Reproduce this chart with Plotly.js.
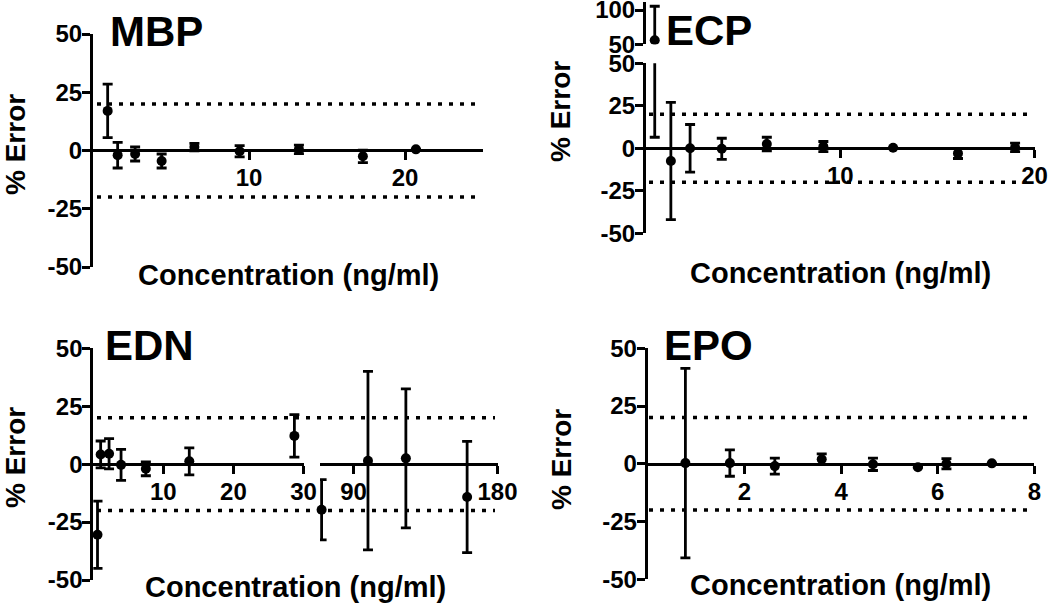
<!DOCTYPE html>
<html>
<head>
<meta charset="utf-8">
<script src="https://cdn.plot.ly/plotly-3.0.1.min.js"></script>
<style>html,body{margin:0;padding:0;background:#fff;}#chart{width:1050px;height:605px;}</style>
</head>
<body>
<div id="chart"></div>
<script>
// ---------- data ----------
const panelNames = ['MBP', 'ECP', 'EDN', 'EPO'];
const limits = [20, -20];

const mbpConc = [0.94, 1.58, 2.7, 4.4, 6.5, 9.4, 13.2, 17.3, 20.7];
const mbpError = [17, -2, -1.5, -4.5, 1.5, -0.3, 0.5, -2.5, 0.5];
const mbpSd = [11.5, 5.5, 3, 3, 1.6, 2.4, 1.8, 2.7, 0];

const ecpConc = [0.45, 1.28, 2.27, 3.9, 6.22, 9.13, 12.72, 16.06, 19.0];
const ecpError = [56, -7.5, 0, -0.3, 2.5, 1, 0.3, -3, 0.5];
const ecpSd = [49.5, 34.5, 14, 6.2, 4, 3, 0, 3, 2.5];

const ednConcLow = [0.6, 1.05, 2.25, 3.96, 7.5, 13.7, 28.7];
const ednErrorLow = [-30.5, 4.2, 4.5, -0.3, -2, 1.2, 12.2];
const ednSdLow = [14.5, 5.8, 6.5, 6.7, 3, 5.8, 9.2];
const ednConcHigh = [70, 99, 122.7, 161];
const ednErrorHigh = [-19.7, 1.5, 2.5, -14.2];
const ednSdHigh = [13, 38.5, 30, 24];

const epoConc = [0.78, 1.70, 2.63, 3.60, 4.66, 5.59, 6.18, 7.12];
const epoError = [0.3, 0.3, -1, 2, -0.2, -1.5, 0, 0.2];
const epoSd = [41, 5.7, 3.5, 2.3, 2.7, 0, 2.2, 0];

const yTicks = [-50, -25, 0, 25, 50];
const ecpTopTicks = [50, 100];
const mbpXTicks = [10, 20];
const ecpXTicks = [10, 20];
const ednXTicksLow = [10, 20, 30];
const ednXTicksHigh = [90, 180];
const epoXTicks = [2, 4, 6, 8];

const yTitle = '% Error';
const xTitle = 'Concentration (ng/ml)';

// ---------- layout helpers ----------
const W = 1050, H = 605;
const FONT = '"Liberation Sans", Arial, Helvetica, sans-serif';
const TICKSIZE = 24;
const fx = p => p / W;
const fy = p => 1 - p / H;

function xAx(p0, p1, range, tv, posPy, extra) {
  return Object.assign({
    domain: [fx(p0), fx(p1)], range: range, tickvals: tv, ticktext: tv.map(String),
    anchor: 'free', position: fy(posPy), showline: true, linewidth: 3, linecolor: '#000',
    ticks: 'outside', ticklen: 8, tickwidth: 3, tickcolor: '#000', ticklabeloverflow: 'allow',
    ticklabelstandoff: -3,
    showgrid: false, zeroline: false, fixedrange: true,
    tickfont: {family: FONT, size: TICKSIZE, color: '#000', weight: 'bold'}
  }, extra || {});
}
function yAx(pTop, pBot, range, tv, anchor) {
  return {
    domain: [fy(pBot), fy(pTop)], range: range, tickvals: tv, ticktext: tv.map(String),
    anchor: anchor, side: 'left', showline: true, linewidth: 3, linecolor: '#000',
    ticks: 'outside', ticklen: 8, tickwidth: 3, tickcolor: '#000', ticklabeloverflow: 'allow',
    ticklabelstandoff: -5,
    showgrid: false, zeroline: false, fixedrange: true,
    tickfont: {family: FONT, size: TICKSIZE, color: '#000', weight: 'bold'}
  };
}
function pts(x, y, sd, xa, ya, clip) {
  return {
    type: 'scatter', mode: 'markers', x: x, y: y, xaxis: xa, yaxis: ya,
    cliponaxis: clip, hoverinfo: 'skip',
    marker: {size: 10, color: '#000'},
    error_y: {type: 'data', array: sd, visible: true, color: '#000', thickness: 2.8, width: 5}
  };
}

const traces = [
  pts(mbpConc, mbpError, mbpSd, 'x', 'y', false),
  pts(ecpConc, ecpError, ecpSd, 'x2', 'y2', true),
  pts(ecpConc, ecpError, ecpSd, 'x2', 'y5', true),
  pts(ednConcLow, ednErrorLow, ednSdLow, 'x3', 'y3', false),
  pts(ednConcHigh, ednErrorHigh, ednSdHigh, 'x6', 'y3', false),
  pts(epoConc, epoError, epoSd, 'x4', 'y4', false)
];

// dotted ±20 % limits
const dotSpans = [
  {yref: 'y', p0: 97, p1: 480},
  {yref: 'y2', p0: 649, p1: 1027},
  {yref: 'y3', p0: 97, p1: 495},
  {yref: 'y4', p0: 649, p1: 1029}
];
const shapes = [];
dotSpans.forEach(s => limits.forEach(v => shapes.push({
  type: 'line', xref: 'paper', yref: s.yref, x0: fx(s.p0), x1: fx(s.p1), y0: v, y1: v,
  line: {color: '#000', width: 3.5, dash: '4px,7px'}, layer: 'below'
})));

// annotations: panel titles and axis titles
const titlePos = [[108, 32], [664, 30], [103, 345], [662, 345]];
const yTitlePos = [[15, 145], [561, 112], [15, 458], [561, 460]];
const xTitlePos = [[288, 275], [840, 273], [295, 587], [840, 585]];
const annotations = [];
panelNames.forEach((n, i) => {
  annotations.push({text: n, xref: 'paper', yref: 'paper', x: fx(titlePos[i][0]), y: fy(titlePos[i][1]),
    xanchor: 'left', yanchor: 'middle', showarrow: false,
    font: {family: FONT, size: 42, color: '#000', weight: 'bold'}});
  annotations.push({text: yTitle, xref: 'paper', yref: 'paper', x: fx(yTitlePos[i][0]), y: fy(yTitlePos[i][1]),
    xanchor: 'center', yanchor: 'middle', textangle: -90, showarrow: false,
    font: {family: FONT, size: 28, color: '#000', weight: 'bold'}});
  annotations.push({text: xTitle, xref: 'paper', yref: 'paper', x: fx(xTitlePos[i][0]), y: fy(xTitlePos[i][1]),
    xanchor: 'center', yanchor: 'middle', showarrow: false,
    font: {family: FONT, size: 29, color: '#000', weight: 'bold'}});
});

const layout = {
  width: W, height: H, margin: {l: 0, r: 0, t: 0, b: 0},
  paper_bgcolor: '#fff', plot_bgcolor: 'rgba(0,0,0,0)', showlegend: false,
  font: {family: FONT, color: '#000'},
  // MBP
  xaxis: xAx(93, 483, [0, 25], mbpXTicks, 150),
  yaxis: yAx(34, 267, [-50, 50], yTicks, 'x'),
  // ECP
  xaxis2: xAx(646, 1034.5, [0, 20], ecpXTicks, 148.3),
  yaxis2: yAx(63.3, 233.3, [-50, 50], yTicks, 'x2'),
  yaxis5: yAx(1.8, 44.3, [50, 112], ecpTopTicks, 'x2'),
  // EDN
  xaxis3: xAx(93.3, 303.5, [0, 30], ednXTicksLow, 464.2),
  xaxis6: xAx(320, 497.5, [69, 180], ednXTicksHigh, 464.2),
  yaxis3: yAx(348.3, 580, [-50, 50], yTicks, 'x3'),
  // EPO
  xaxis4: xAx(647.7, 1034.4, [0, 8], epoXTicks, 463.8),
  yaxis4: yAx(348.3, 579.3, [-50, 50], yTicks, 'x4'),
  shapes: shapes,
  annotations: annotations
};

Plotly.newPlot('chart', traces, layout, {staticPlot: true, displayModeBar: false});
</script>
</body>
</html>
